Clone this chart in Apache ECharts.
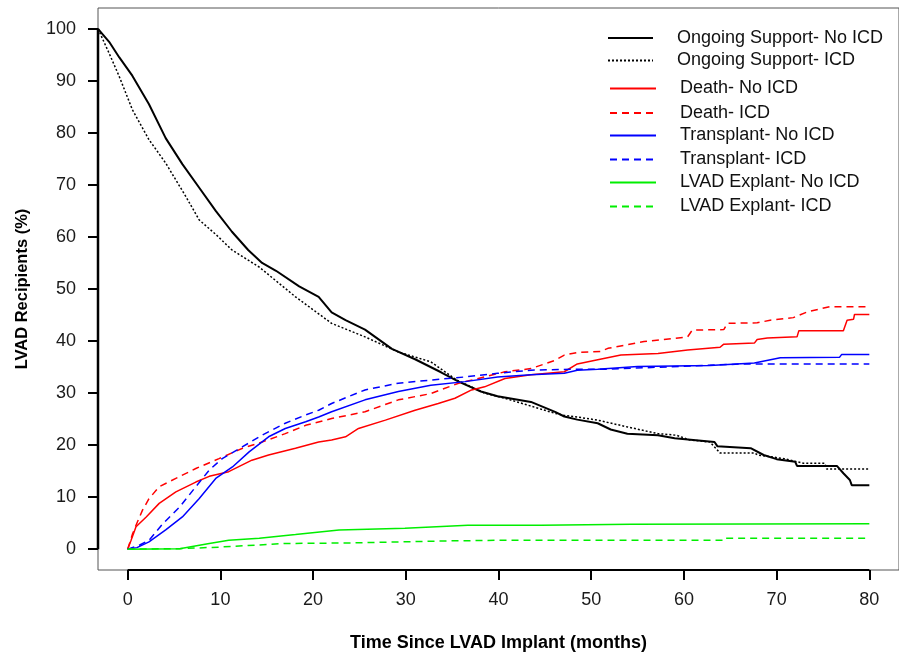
<!DOCTYPE html>
<html>
<head>
<meta charset="utf-8">
<script src="https://cdn.jsdelivr.net/npm/echarts@6/dist/echarts.min.js"></script>
<style>html,body{margin:0;padding:0;background:#fff}#c{width:899px;height:660px}</style>
</head>
<body>
<div id="c"></div>
<script>
// ---- data (time in months, percent) ----
const xTicks = [0, 10, 20, 30, 40, 50, 60, 70, 80];
const yTicks = [0, 10, 20, 30, 40, 50, 60, 70, 80, 90, 100];
const seriesNames = [
  'Ongoing Support- No ICD', 'Ongoing Support- ICD',
  'Death- No ICD', 'Death- ICD',
  'Transplant- No ICD', 'Transplant- ICD',
  'LVAD Explant- No ICD', 'LVAD Explant- ICD'
];
const ongoingNoICD = [[-3.2,100],[-2,97.5],[-0.9,94.5],[0.5,91],[2.3,85.5],[4.1,79],[5.9,74],[7.7,69.5],[9.5,65],[11.25,61],[13,57.5],[14.5,55],[16,53.5],[18.5,50.5],[20.6,48.5],[22,45.5],[23.5,44],[25.6,42.2],[28.5,38.5],[31,36.5],[33.8,34],[35.7,32.2],[38.1,30.3],[39.9,29.4],[43.5,28.3],[46.1,26.4],[47.1,25.5],[48.5,24.9],[50.7,24.2],[52.1,23.0],[53.9,22.2],[57.2,21.9],[59,21.3],[63.3,20.6],[63.6,19.8],[67.2,19.4],[68.6,18.1],[70,17.3],[72,16.8],[72.2,16.0],[76.5,16.0],[77.2,14.6],[77.9,13.3],[78.1,12.3],[80,12.3]];
const ongoingICD = [[-3.2,100],[-2,95.3],[-0.9,90.8],[0.5,84.5],[2.3,78.7],[4.1,74.2],[6.3,67.7],[7.7,63.3],[9.5,60.5],[11.25,57.5],[14.2,54.2],[18.1,48.5],[22,43.4],[25.6,40.8],[29.2,37.9],[32.7,36.0],[35.5,32.5],[38.5,30],[40.7,29],[46.1,26.1],[47.1,25.7],[48.5,25.4],[50.7,24.8],[53.9,23.5],[57.2,22.2],[59.2,21.9],[60.6,21.0],[62.8,20.6],[63.9,18.5],[67.6,18.5],[68,18.1],[70.8,17.4],[72.9,16.5],[75.2,16.5],[75.4,15.4],[80,15.4]];
const deathNoICD = [[0,0],[0.37,1.7],[0.9,4.3],[2.0,6.2],[3.4,8.8],[5.2,11.0],[7.35,12.9],[8.8,14.0],[10.9,14.9],[13.4,17.1],[15.2,18.1],[18.1,19.4],[20.6,20.6],[22,21.0],[23.5,21.6],[24.9,23.2],[27.8,24.8],[31,26.7],[33.5,28.0],[35.3,29.0],[37.1,30.6],[38.5,31.2],[40.7,32.8],[43.5,33.5],[47.1,34.1],[48.5,35.6],[50.7,36.4],[53.2,37.3],[57.2,37.6],[60.4,38.3],[63.9,38.8],[64.3,39.4],[67.6,39.6],[67.9,40.3],[69,40.6],[72.2,40.8],[72.4,42.0],[77.2,42.0],[77.6,44.0],[78.3,44.2],[78.4,45.1],[80,45.1]];
const deathICD = [[0,0],[0.2,1.1],[0.54,3.0],[0.9,4.6],[1.6,7.5],[2.3,9.7],[3.4,12.0],[5.2,13.6],[7.35,15.5],[9.85,17.4],[12.4,19.4],[14.5,20.6],[17,22.2],[19.2,23.8],[22,25.1],[25.6,26.4],[29.2,28.7],[32.7,29.9],[35.7,31.9],[38.5,33.1],[40.7,34.1],[43.5,34.7],[46.1,36.3],[47.1,37.3],[48.5,37.8],[51,38.0],[51.8,38.6],[55.7,39.9],[60.4,40.8],[60.9,42.1],[64.3,42.2],[64.7,43.4],[67.9,43.5],[69.3,44.0],[71.8,44.5],[73.3,45.6],[75.7,46.6],[80,46.6]];
const transplantNoICD = [[0,0],[1,0.3],[2.3,1.4],[4.1,3.7],[5.9,6.2],[7.7,9.7],[9.5,13.6],[11.3,15.8],[13.1,18.7],[15.2,21.6],[17,23.2],[19.2,24.5],[20.6,25.4],[22,26.4],[25.6,28.7],[29.2,30.3],[32.7,31.5],[36.4,32.2],[39.9,33.1],[43.5,33.5],[47.1,33.8],[48.5,34.4],[50.7,34.6],[55,35.1],[62.8,35.3],[67.6,35.8],[70.4,36.8],[76.8,36.9],[77,37.4],[80,37.4]];
const transplantICD = [[0,0],[1.3,0.8],[2.3,1.7],[3.8,4.9],[5.6,8.1],[7.35,12.0],[8.8,15.2],[10.2,17.4],[12.4,19.7],[14.5,21.9],[17,24.2],[19.2,25.8],[20.6,26.7],[22,28.0],[25.6,30.6],[29.2,31.9],[32.7,32.5],[36.4,33.1],[39.9,33.8],[43.5,34.4],[48.5,34.6],[51.8,34.6],[60.7,35.2],[66.4,35.6],[80,35.6]];
const explantNoICD = [[0,0],[5.6,0.1],[8.8,1.1],[10.9,1.7],[14.2,2.1],[18.1,2.8],[22.8,3.7],[29.9,4.0],[36.7,4.6],[44.6,4.6],[44.7,4.8],[54.3,4.8],[54.4,4.9],[80,4.9]];
const explantICD = [[0,0],[5.6,0.1],[9.9,0.4],[17,1.1],[24.2,1.2],[34.9,1.6],[39.9,1.7],[64.3,1.7],[64.4,2.1],[80,2.1]];

const allData = [ongoingNoICD, ongoingICD, deathNoICD, deathICD, transplantNoICD, transplantICD, explantNoICD, explantICD];
const styles = [
  {color:'#000000', width:2, type:'solid'},
  {color:'#000000', width:1.5, type:[2,2]},
  {color:'#ff0000', width:1.5, type:'solid'},
  {color:'#ff0000', width:1.5, type:[7,5]},
  {color:'#0000ff', width:1.5, type:'solid'},
  {color:'#0000ff', width:1.5, type:[7,5]},
  {color:'#00ee00', width:1.5, type:'solid'},
  {color:'#00ee00', width:1.5, type:[7,5]}
];
const legendCenters = [40, 62.5, 90.5, 115, 137.5, 161.5, 184.5, 208.5];
const legendLefts = [607, 607, 609, 609, 609, 609, 609, 609];

const xMin = -3.2, xMax = 83.2, yMin = -4, yMax = 104;
const font = "'Liberation Sans', Arial, Helvetica, sans-serif";

const series = allData.map((d, i) => ({
  name: seriesNames[i], type: 'line', data: d, showSymbol: false, symbol: 'none',
  lineStyle: {color: styles[i].color, width: styles[i].width, type: styles[i].type},
  itemStyle: {color: styles[i].color},
  z: 3
}));
// thick axis segments spanning tick range (R style)
series.push({
  type: 'line', data: [[xTicks[0], yMin], [xTicks[xTicks.length-1], yMin]], symbol: 'none',
  lineStyle: {color: '#000', width: 2}, silent: true, clip: false, z: 5
});
series.push({
  type: 'line', data: [[xMin, yTicks[0]], [xMin, yTicks[yTicks.length-1]]], symbol: 'none',
  lineStyle: {color: '#000', width: 2.5}, silent: true, clip: false, z: 5
});

const legends = seriesNames.map((n, i) => ({
  left: legendLefts[i], top: legendCenters[i] - 11, orient: 'vertical',
  data: [n], itemWidth: i < 2 ? 45 : 46, itemHeight: 14, padding: 0,
  selectedMode: false,
  itemStyle: {opacity: 0},
  textStyle: {fontSize: 18, color: '#111', fontFamily: font, padding: [0, 0, 0, 19]}
}));

const chart = echarts.init(document.getElementById('c'), null, {renderer: 'canvas'});
chart.setOption({
  animation: false,
  backgroundColor: '#fff',
  textStyle: {fontFamily: font},
  grid: {left: 98, top: 8, width: 804, height: 562, show: true, borderColor: '#555', borderWidth: 1, backgroundColor: 'transparent'},
  legend: legends,
  xAxis: {
    type: 'value', min: xMin, max: xMax,
    name: 'Time Since LVAD Implant (months)', nameLocation: 'middle', nameGap: 64,
    nameTextStyle: {fontSize: 18, fontWeight: 'bold', color: '#000', fontFamily: font},
    axisLine: {show: false, onZero: false},
    axisTick: {show: true, customValues: xTicks, length: 10, inside: false, lineStyle: {color: '#000', width: 2}},
    axisLabel: {customValues: xTicks, fontSize: 18, color: '#1a1a1a', margin: 21, fontFamily: font},
    splitLine: {show: false}
  },
  yAxis: {
    type: 'value', min: yMin, max: yMax,
    name: 'LVAD Recipients (%)', nameLocation: 'middle', nameGap: 67, nameRotate: 90,
    nameTextStyle: {fontSize: 16.5, fontWeight: 'bold', color: '#000', fontFamily: font},
    axisLine: {show: false, onZero: false},
    axisTick: {show: true, customValues: yTicks, length: 10, inside: false, lineStyle: {color: '#000', width: 2}},
    axisLabel: {customValues: yTicks, fontSize: 18, color: '#1a1a1a', margin: 22, fontFamily: font},
    splitLine: {show: false}
  },
  series: series
});
</script>
</body>
</html>
